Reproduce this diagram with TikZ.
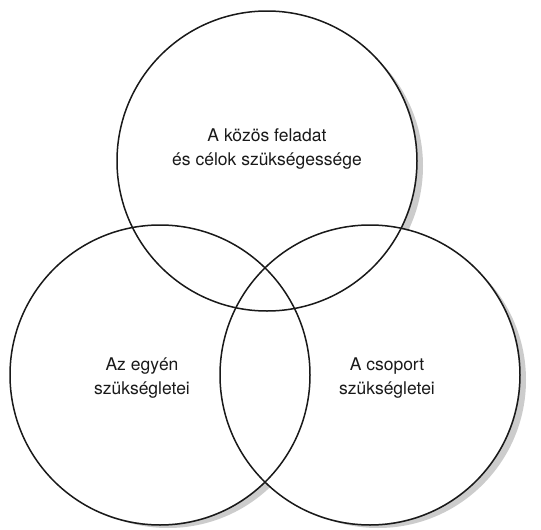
\documentclass[tikz,border=0pt]{standalone}
\usepackage{fontspec}
\setmainfont{TeX Gyre Heros}
\usetikzlibrary{positioning}

\begin{document}
\begin{tikzpicture}[
  x=1pt, y=-1pt,
  font=\fontsize{17.5}{24.5}\selectfont,
  ring/.style={circle, draw=black!90, line width=1.5pt, minimum size=300pt, inner sep=0pt},
  ringfill/.style={fill=white},
  shadowdisc/.style={fill=black!20},
  lbl/.style={align=center, text=black!90}
]
\useasboundingbox (0,0) rectangle (541,530);

% ---------------------------------------------- shadows, then white discs
\fill[shadowdisc] (275,166) circle [radius=148pt];
\fill[shadowdisc] (168,380) circle [radius=148pt];
\fill[shadowdisc] (378,380) circle [radius=148pt];
\fill[ringfill] (267,161) circle [radius=149pt];
\fill[ringfill] (160,375) circle [radius=149pt];
\fill[ringfill] (370,375) circle [radius=149pt];

% ---------------------------------------------- the three circles
\node[ring] (task)  at (267,161) {};
\node[ring] (indiv) at (160,375) {};
\node[ring] (group) at (370,375) {};

% ---------------------------------------------- labels
\node[lbl] (tasklbl)  at (267,149) {A közös feladat\\ és célok szükségessége};
\node[lbl] (indivlbl) at (142,378) {Az egyén\\ szükségletei};
\node[lbl] (grouplbl) at (387,378) {A csoport\\ szükségletei};

\end{tikzpicture}
\end{document}
